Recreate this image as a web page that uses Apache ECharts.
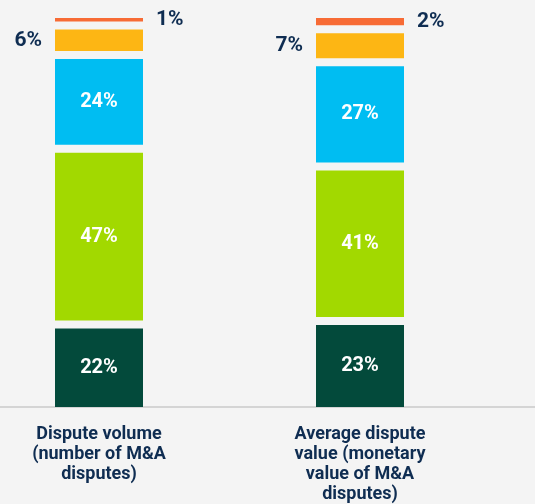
<!DOCTYPE html>
<html><head><meta charset="utf-8">
<script src="https://cdn.jsdelivr.net/npm/echarts@6/dist/echarts.min.js"></script>
<style>html,body{margin:0;padding:0;background:#f4f4f4}#c{width:535px;height:504px}</style>
</head><body><div id="c"></div>
<script>
// Categories (x axis)
const categories = ['Dispute volume\n(number of M&A\ndisputes)', 'Average dispute\nvalue (monetary\nvalue of M&A\ndisputes)'];
// Segment values in %, stacked bottom to top
const darkGreen = [22, 23];
const lime = [47, 41];
const blue = [24, 27];
const yellow = [6, 7];
const orange = [1, 2];

const GAP = 8, BAR_W = 88, NAVY = '#0f2d52';
const segs = [
  {values: darkGreen, color: '#034a3b', pos: 'inside'},
  {values: lime, color: '#a2d900', pos: 'inside'},
  {values: blue, color: '#00bdf2', pos: 'inside'},
  {values: yellow, color: '#fdb614', pos: 'left'},
  {values: orange, color: '#f76b35', pos: 'right'}
];
const cum = categories.map(() => 0);
const series = segs.map((d, si) => {
  const data = d.values.map((v, ci) => { const s = cum[ci]; cum[ci] += v; return [ci, s, s + v, v]; });
  return {
    type: 'custom', xAxisIndex: 0, yAxisIndex: 0, clip: false,
    data: data,
    renderItem: function (params, api) {
      const c = api.value(0), s = api.value(1), e = api.value(2), v = api.value(3);
      const pb = api.coord([c, s]), pt = api.coord([c, e]);
      const off = si * GAP;
      const inside = d.pos === 'inside';
      return {
        type: 'rect',
        shape: {x: pb[0] - BAR_W / 2, y: pt[1] - off, width: BAR_W, height: pb[1] - pt[1]},
        style: {fill: d.color},
        textContent: {style: {text: v + '%', fill: inside ? '#ffffff' : NAVY,
          fontFamily: 'Roboto', fontWeight: 'bold', fontSize: inside ? 20 : 21}},
        textConfig: {position: d.pos, distance: 13}
      };
    }
  };
});

const chart = echarts.init(document.getElementById('c'));
chart.setOption({
  backgroundColor: '#f4f4f4',
  animation: false,
  grid: [
    {left: -31.5, right: 44.5, top: 50, bottom: 97, outerBoundsMode: 'none', containLabel: false},
    {left: 0, right: 0, top: 50, bottom: 97, outerBoundsMode: 'none', containLabel: false}
  ],
  xAxis: [
    {type: 'category', gridIndex: 0, data: categories,
      axisLine: {show: false}, axisTick: {show: false},
      axisLabel: {margin: 17, color: NAVY, fontFamily: 'Roboto', fontWeight: 'bold', fontSize: 18, lineHeight: 20}},
    {type: 'category', gridIndex: 1, data: [''],
      axisLine: {show: true, lineStyle: {color: '#d4d4d4', width: 2}}, axisTick: {show: false}, axisLabel: {show: false}}
  ],
  yAxis: [
    {type: 'value', gridIndex: 0, min: 0, max: 100, show: false},
    {type: 'value', gridIndex: 1, min: 0, max: 100, show: false}
  ],
  series: series
});
</script>
</body></html>
